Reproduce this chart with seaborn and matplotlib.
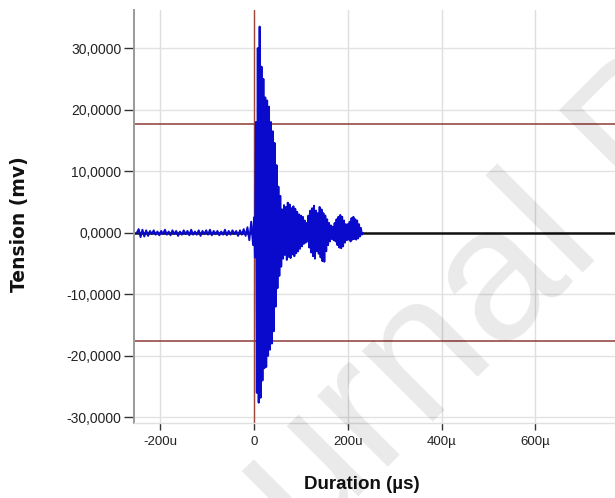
import numpy as np
import pandas as pd
import matplotlib
matplotlib.use("Agg")
import matplotlib.pyplot as plt
import seaborn as sns

# ---- signal samples (time in microseconds, tension in mV) ----
# pre-trigger noise, one sample every 4 us starting at -250 us
pre_start, pre_step = -250, 4
pre_vals = [0.0, 0.6, -0.7, 0.5, -0.6, 0.4, -0.5, 0.3, -0.2, 0.4, -0.3, 0.2,
            -0.4, 0.3, -0.2, 0.5, -0.3, 0.2, -0.4, 0.4, -0.2, 0.3, -0.5, 0.2,
            -0.3, 0.4, -0.2, 0.3, -0.4, 0.5, -0.3, 0.2, -0.3, 0.4, -0.5, 0.3,
            -0.2, 0.4, -0.3, 0.5, -0.4, 0.3, -0.2, 0.3, -0.4, 0.2, -0.3, 0.5,
            -0.4, 0.3, -0.3, 0.4, -0.2, 0.3, -0.5, 0.4, -0.3, 0.6, -0.5, 0.9,
            -1.2, 1.8, -2.0]

# acoustic burst, one sample every 2 us starting at 0 us
burst_start, burst_step = 0, 2
burst_vals = [2.5, -4.0, 18.0, -26.0, 30.0, -27.6, 33.5, -26.8, 27.0, -24.0,
              25.0, -22.0, 22.0, -21.8, 21.5, -20.0, 20.5, -19.0, 18.0, -18.0,
              16.5, -16.0, 14.6, -12.0, 11.0, -9.0, 7.5, -7.0, 6.0, -5.5,
              3.8, -4.2, 4.5, -3.6, 4.2, -4.4, 4.9, -3.9, 4.6, -4.1,
              4.0, -3.5, 4.3, -3.8, 3.9, -3.3, 3.4, -3.0, 3.0, -2.6,
              2.8, -2.2, 2.6, -1.8, 2.0, -1.6, 1.6, -1.4, 2.8, -2.4,
              3.6, -3.2, 4.0, -3.8, 4.4, -4.2, 3.6, -3.0, 3.2, -3.4,
              4.2, -4.0, 3.8, -4.6, 3.2, -4.7, 2.8, -3.0, 2.2, -2.0,
              1.6, -1.4, 1.2, -1.0, 1.0, -1.2, 1.6, -1.4, 2.2, -2.0,
              2.6, -2.4, 2.9, -2.5, 2.6, -2.2, 2.0, -1.6, 1.4, -1.2,
              1.4, -1.1, 1.8, -1.4, 2.4, -1.1, 2.6, -1.0, 2.2, -1.1,
              2.0, -0.9, 1.4, -0.6, 0.8, -0.3, 0.0]

threshold = 17.6          # detection threshold (mV), drawn as +/- lines
trigger_time = 0          # trigger instant (us)

y_ticks = [-30, -20, -10, 0, 10, 20, 30]
y_tick_labels = ["-30,0000", "-20,0000", "-10,0000", "0,0000",
                 "10,0000", "20,0000", "30,0000"]
x_ticks = [-200, 0, 200, 400, 600]
x_tick_labels = ["-200u", "0", "200u", "400\u00b5", "600\u00b5"]

# ---- build the table ----
pre_t = pre_start + pre_step * np.arange(len(pre_vals))
burst_t = burst_start + burst_step * np.arange(len(burst_vals))
df = pd.DataFrame({
    "time": np.concatenate([pre_t, burst_t]),
    "tension": np.concatenate([pre_vals, burst_vals]),
})

sns.set_style("white")
plt.rcParams["font.family"] = ["Liberation Sans", "DejaVu Sans"]

fig = plt.figure(figsize=(6.15, 4.98), dpi=100)
ax = fig.add_axes([134 / 615, 1 - 423 / 498, 1 - 134 / 615, (423 - 10) / 498])

ax.set_xlim(-256, 770)
ax.set_ylim(-30.9, 36.2)

# grid
ax.set_axisbelow(True)
for xv in x_ticks:
    ax.axvline(xv, color="#dedede", lw=1.0, zorder=0)
for yv in y_ticks:
    ax.axhline(yv, color="#e2e2e2", lw=1.0, zorder=0)

# zero baseline
ax.axhline(0, color="#111111", lw=1.8, zorder=1)

# signal
sns.lineplot(data=df, x="time", y="tension", ax=ax, sort=False,
             color="#0a0acc", lw=1.4, zorder=3, estimator=None)

# threshold and trigger markers
ax.axhline(threshold, color="#8e3b36", lw=1.1, zorder=2)
ax.axhline(-threshold, color="#8e3b36", lw=1.1, zorder=2)
ax.axvline(trigger_time, color="#a0473c", lw=1.0, zorder=2)

# axes styling
for side in ["top", "right"]:
    ax.spines[side].set_visible(False)
ax.spines["left"].set_color("#9a9a9a")
ax.spines["left"].set_linewidth(1.4)
ax.spines["bottom"].set_color("#e0e0e0")
ax.spines["bottom"].set_linewidth(1.0)

ax.set_yticks(y_ticks)
ax.set_yticklabels(y_tick_labels)
ax.set_xticks(x_ticks)
ax.set_xticklabels(x_tick_labels)
ax.tick_params(axis="y", direction="out", length=7, width=1.0, color="#333333",
               pad=2, labelsize=10, labelcolor="#222222", left=True)
ax.tick_params(axis="x", direction="out", length=5, width=1.0, color="#333333",
               pad=4, labelsize=9.5, labelcolor="#222222", bottom=True)
ax.set_xlabel("")
ax.set_ylabel("")

fig.text(20 / 615, 1 - 224 / 498, "Tension (mv)", rotation=90, ha="center",
         va="center", fontsize=13.5, fontweight="bold", color="#111111",
         family="DejaVu Sans")
fig.text(362 / 615, 1 - 484 / 498, "Duration (\u00b5s)", ha="center",
         va="center", fontsize=13.5, fontweight="bold", color="#111111")

# watermark
fig.text(162 / 615, 1 - 692 / 498, "Journal Pre-proof", rotation=45,
         rotation_mode="anchor", ha="left", va="baseline", fontsize=137,
         color="black", alpha=0.085, zorder=10)

fig.savefig("out.png", dpi=100)
